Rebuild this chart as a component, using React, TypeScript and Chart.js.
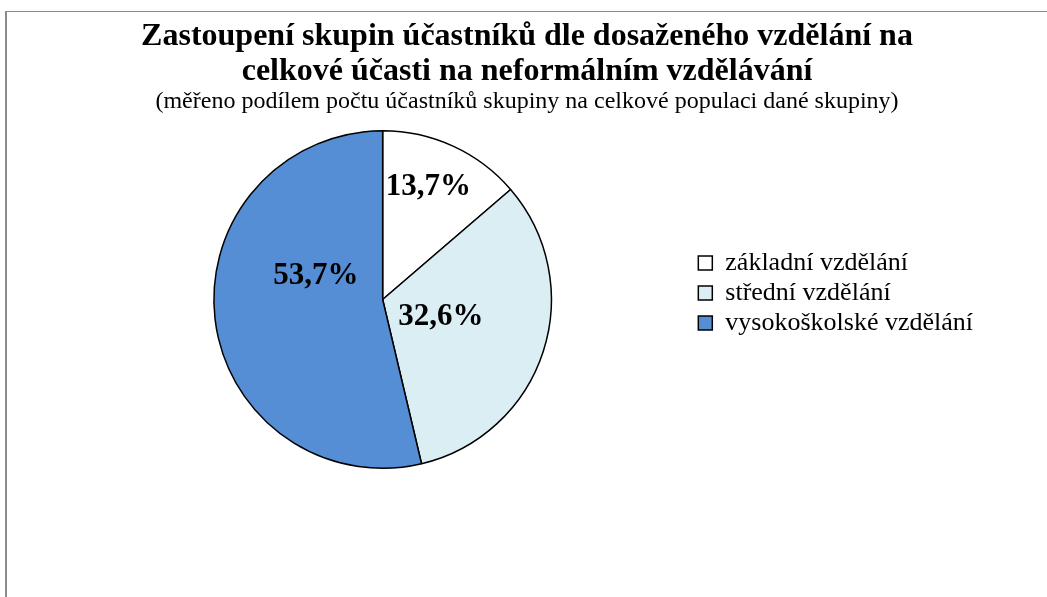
import React, { useEffect, useRef } from "react";
import { Chart, registerables } from "chart.js";

Chart.register(...registerables);

const categories = ["základní vzdělání", "střední vzdělání", "vysokoškolské vzdělání"];
const shares = [13.7, 32.6, 53.7];
const sliceColors = ["#FFFFFF", "#DBEEF4", "#558ED5"];
const titleLines = [
  "Zastoupení skupin účastníků dle dosaženého vzdělání na",
  "celkové účasti na neformálním vzdělávání",
];
const subtitleText = "(měřeno podílem počtu účastníků skupiny na celkové populaci dané skupiny)";

// label placement relative to each arc: fraction of radius, angle offset (deg) from mid-angle
const labelPlacement = [
  { r: 0.72, da: -2.5 },
  { r: 0.36, da: -1 },
  { r: 0.42, da: 26 },
];

const SERIF = "'Liberation Serif', 'Times New Roman', serif";

const pctLabels = {
  id: "pctLabels",
  afterDatasetsDraw(chart: any) {
    const ctx = chart.ctx;
    const meta = chart.getDatasetMeta(0);
    ctx.save();
    ctx.font = `bold 31px ${SERIF}`;
    ctx.fillStyle = "#000";
    ctx.textAlign = "center";
    ctx.textBaseline = "middle";
    meta.data.forEach((arc: any, i: number) => {
      const p = labelPlacement[i];
      const mid = (arc.startAngle + arc.endAngle) / 2 + (p.da * Math.PI) / 180;
      const rr = arc.outerRadius * p.r;
      const x = arc.x + Math.cos(mid) * rr;
      const y = arc.y + Math.sin(mid) * rr;
      ctx.fillText(shares[i].toFixed(1).replace(".", ",") + "%", x, y);
    });
    ctx.restore();
  },
};

export default function App() {
  const ref = useRef<HTMLCanvasElement | null>(null);
  useEffect(() => {
    if (!ref.current) return;
    const chart = new Chart(ref.current, {
      type: "pie",
      data: {
        labels: categories,
        datasets: [
          {
            data: shares,
            backgroundColor: sliceColors,
            borderColor: "#000000",
            borderWidth: 1.5,
          },
        ],
      },
      options: {
        animation: false,
        responsive: false,
        layout: { padding: { top: 0, left: 71, right: 64, bottom: 128 } },
        plugins: {
          title: {
            display: true,
            text: titleLines,
            color: "#000",
            font: { family: SERIF, size: 32, weight: "bold", lineHeight: 35 / 32 },
            padding: { top: 19, bottom: 0 },
          },
          subtitle: {
            display: true,
            text: subtitleText,
            color: "#000",
            font: { family: SERIF, size: 24, weight: "normal", lineHeight: 1 },
            padding: { top: 1, bottom: 16 },
          },
          legend: {
            display: true,
            position: "right",
            align: "start",
            fullSize: false,
            title: {
              display: true,
              text: " ",
              color: "#000",
              font: { size: 10, lineHeight: 1 },
              padding: { top: 106, bottom: 0 },
            },
            labels: {
              color: "#000",
              font: { family: SERIF, size: 26 },
              boxWidth: 14,
              boxHeight: 14,
              padding: 4,
              generateLabels: () =>
                categories.map((t, i) => ({
                  text: t,
                  fillStyle: sliceColors[i],
                  strokeStyle: "#000",
                  fontColor: "#000",
                  lineWidth: 1.5,
                  hidden: false,
                  index: i,
                })),
            },
          },
          tooltip: { enabled: false },
        },
      },
      plugins: [pctLabels],
    });
    return () => chart.destroy();
  }, []);

  return (
    <div style={{ position: "absolute", left: 0, top: 0, width: 1047, height: 597, background: "#fff" }}>
      <div
        style={{
          position: "absolute",
          left: 5,
          top: 11,
          width: 1100,
          height: 700,
          borderLeft: "2px solid #8a8a8a",
          borderTop: "1.5px solid #8a8a8a",
        }}
      />
      <canvas ref={ref} width={1047} height={597} style={{ position: "absolute", left: 0, top: 0 }} />
    </div>
  );
}
